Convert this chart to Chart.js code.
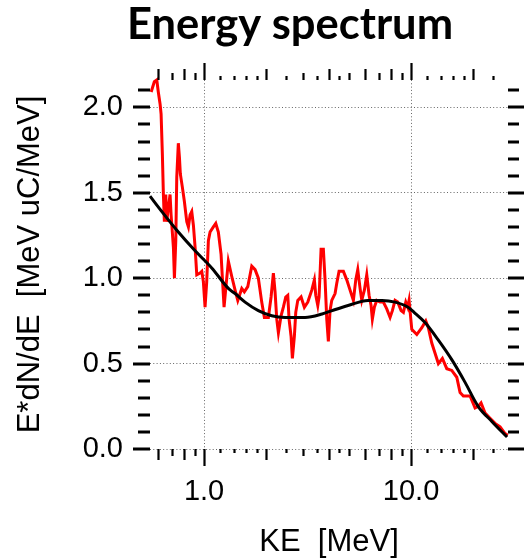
<!DOCTYPE html>
<html>
<head>
<meta charset="utf-8">
<script src="https://cdn.jsdelivr.net/npm/chart.js@4"></script>
<style>
  body { margin: 0; background: #fff; }
  #wrap { width: 525px; height: 558px; }
</style>
</head>
<body>
<div id="wrap"><canvas id="spectrum" width="525" height="558"></canvas></div>
<script>
// measured spectrum (red) and fit (black)
var redKE = [0.555, 0.575, 0.591, 0.601, 0.613, 0.620, 0.629, 0.636, 0.643, 0.653,
    0.660, 0.672, 0.685, 0.693, 0.711, 0.719, 0.730, 0.738, 0.751, 0.760,
    0.768, 0.786, 0.803, 0.825, 0.840, 0.856, 0.872, 0.888, 0.905, 0.922,
    0.956, 0.975, 0.992, 1.011, 1.030, 1.049, 1.069, 1.109, 1.139, 1.172,
    1.208, 1.226, 1.249, 1.310, 1.361, 1.412, 1.455, 1.521, 1.565, 1.626,
    1.700, 1.764, 1.829, 1.864, 1.899, 1.956, 2.045, 2.107, 2.162, 2.203,
    2.245, 2.286, 2.355, 2.416, 2.481, 2.537, 2.574, 2.632, 2.671, 2.731,
    2.773, 2.836, 2.942, 3.052, 3.170, 3.314, 3.411, 3.465, 3.543, 3.594,
    3.675, 3.770, 3.842, 3.915, 3.985, 4.061, 4.139, 4.294, 4.376, 4.489,
    4.710, 4.891, 5.074, 5.264, 5.406, 5.527, 5.671, 5.779, 5.949, 6.109,
    6.268, 6.410, 6.502, 6.648, 6.829, 7.083, 7.349, 7.632, 7.918, 8.124,
    8.37, 8.626, 8.95, 9.18, 9.43, 9.64, 9.78, 10.08, 10.66, 11.27,
    11.78, 12.12, 12.59, 13.06, 13.55, 14.17, 14.88, 15.73, 16.63, 17.25,
    17.89, 19.28, 20.38, 21.15, 21.79, 22.78, 24.08, 25.46, 26.92, 28.46,
    29.32];
var redFlux = [2.09, 2.15, 2.16, 2.09, 2.02, 1.96, 1.72, 1.49, 1.33, 1.49,
    1.33, 1.41, 1.49, 1.37, 1.18, 1.00, 1.22, 1.59, 1.79, 1.71,
    1.61, 1.53, 1.45, 1.33, 1.30, 1.37, 1.39, 1.31, 1.18, 1.02,
    1.03, 1.04, 0.98, 0.83, 0.98, 1.22, 1.27, 1.30, 1.32, 1.27,
    1.14, 1.00, 0.83, 1.10, 1.01, 0.93, 0.87, 0.94, 0.92, 0.95,
    1.07, 1.05, 1.00, 0.93, 0.86, 0.77, 0.77, 0.89, 1.03, 0.92,
    0.76, 0.68, 0.78, 0.83, 0.89, 0.90, 0.76, 0.66, 0.53, 0.66,
    0.80, 0.87, 0.89, 0.83, 0.86, 0.93, 0.99, 0.90, 0.84, 0.89,
    1.17, 1.17, 0.99, 0.76, 0.63, 0.81, 0.87, 0.91, 0.97, 1.04,
    1.04, 0.99, 0.93, 0.87, 0.99, 1.05, 0.94, 0.87, 0.93, 1.02,
    0.90, 0.84, 0.76, 0.83, 0.87, 0.86, 0.86, 0.82, 0.77, 0.81,
    0.87, 0.86, 0.81, 0.80, 0.86, 0.83, 0.87, 0.70, 0.67, 0.71,
    0.75, 0.71, 0.62, 0.56, 0.50, 0.53, 0.47, 0.46, 0.42, 0.33,
    0.31, 0.31, 0.24, 0.25, 0.27, 0.21, 0.18, 0.15, 0.13, 0.09,
    0.08];

var fitKE = [0.548, 0.625, 0.751, 0.905, 1.089, 1.310, 1.412, 1.578, 1.829, 2.122,
    2.462, 3.076, 3.716, 4.153, 4.963, 6.198, 7.244, 8.37, 9.67, 10.34,
    11.68, 13.50, 15.78, 18.24, 21.08, 24.62, 29.1];
var fitFlux = [1.48, 1.39, 1.27, 1.16, 1.06, 0.94, 0.91, 0.86, 0.81, 0.78,
    0.77, 0.77, 0.79, 0.81, 0.84, 0.87, 0.87, 0.86, 0.83, 0.80,
    0.74, 0.64, 0.52, 0.39, 0.25, 0.16, 0.07];

// axes
var xLabelTicks = [1, 10];
var xMediumTicks = [0.6, 0.8, 2, 4, 6, 8, 20];
var xShortTicks = [0.7, 0.9, 3, 5, 7, 9];
var xTinyTicks = [1.2, 1.4, 1.6, 1.8, 2.5, 3.5, 4.5, 12, 14, 16, 18, 25];
var yLabelTicks = [0, 0.5, 1.0, 1.5, 2.0];
var yMinorTicks = [0.1, 0.2, 0.3, 0.4, 0.6, 0.7, 0.8, 0.9, 1.1, 1.2, 1.3, 1.4,
    1.6, 1.7, 1.8, 1.9, 2.1];

var titleText = 'Energy spectrum';
var xTitle = 'KE  [MeV]';
var yTitle = 'E*dN/dE  [MeV uC/MeV]';

function toPoints(xs, ys) {
    return xs.map(function (x, i) { return { x: x, y: ys[i] }; });
}

// Title drawn by hand so it can sit left of the plot centre like the original.
var titlePlugin = {
    id: 'titlePlugin',
    afterDraw: function (chart) {
        var ctx = chart.ctx;
        ctx.save();
        ctx.fillStyle = '#000';
        ctx.font = 'bold 40px Lato';
        // squeeze to the width of the original heading
        var w = ctx.measureText(titleText).width;
        var size = 40 * 326 / w;
        ctx.font = 'bold ' + size.toFixed(1) + 'px Lato';
        ctx.textAlign = 'center';
        ctx.textBaseline = 'alphabetic';
        ctx.fillText(titleText, 290, 39);
        ctx.restore();
    }
};

// Outside tick marks on all four sides (IDL style).
var tickPlugin = {
    id: 'tickPlugin',
    afterDraw: function (chart) {
        var ctx = chart.ctx, a = chart.chartArea;
        var x = chart.scales.x, y = chart.scales.y;
        ctx.save();
        ctx.strokeStyle = '#000';
        ctx.lineCap = 'butt';

        ctx.lineWidth = 3;
        function yTick(v, lenL, lenR) {
            var py = Math.round(y.getPixelForValue(v));
            ctx.beginPath();
            ctx.moveTo(a.left - lenL, py); ctx.lineTo(a.left, py);
            ctx.moveTo(a.right, py); ctx.lineTo(a.right + lenR, py);
            ctx.stroke();
        }
        yLabelTicks.forEach(function (v) { yTick(v, 17, 16); });
        yMinorTicks.forEach(function (v) { yTick(v, 12, 11); });

        ctx.lineWidth = 2.2;
        function xTick(v, len) {
            var px = Math.round(x.getPixelForValue(v)) + 0.5;
            ctx.beginPath();
            ctx.moveTo(px, a.top - len); ctx.lineTo(px, a.top);
            ctx.moveTo(px, a.bottom); ctx.lineTo(px, a.bottom + len);
            ctx.stroke();
        }
        xLabelTicks.forEach(function (v) { xTick(v, 17); });
        xMediumTicks.forEach(function (v) { xTick(v, 11); });
        xShortTicks.forEach(function (v) { xTick(v, 7); });
        xTinyTicks.forEach(function (v) { xTick(v, 4); });
        ctx.restore();
    }
};

var ctx = document.getElementById('spectrum');
var chart = new Chart(ctx, {
    type: 'line',
    data: {
        datasets: [{
            label: 'fit',
            data: toPoints(fitKE, fitFlux),
            borderColor: '#000',
            borderWidth: 3,
            pointRadius: 0,
            tension: 0.4,
            cubicInterpolationMode: 'monotone',
            clip: false
        }, {
            label: 'measured',
            data: toPoints(redKE, redFlux),
            borderColor: '#ff0000',
            borderWidth: 3,
            pointRadius: 0,
            tension: 0,
            clip: false
        }]
    },
    options: {
        responsive: false,
        animation: false,
        devicePixelRatio: 1,
        layout: { padding: { left: 0, right: 17, top: 80, bottom: 0 } },
        plugins: {
            legend: { display: false },
            title: { display: false },
            tooltip: { enabled: false }
        },
        scales: {
            x: {
                type: 'logarithmic',
                min: 0.548,
                max: 29.4,
                afterBuildTicks: function (scale) {
                    scale.ticks = xLabelTicks.map(function (v) { return { value: v }; });
                },
                afterFit: function (scale) { scale.height = 109; },
                ticks: {
                    autoSkip: false,
                    maxRotation: 0,
                    padding: 26,
                    color: '#000',
                    font: { family: 'Liberation Sans', size: 29 },
                    callback: function (v) { return Number(v).toFixed(1); }
                },
                grid: { color: '#666', lineWidth: 1, drawTicks: false },
                border: { display: false, dash: [1, 2.3] },
                title: {
                    display: true,
                    text: xTitle,
                    color: '#000',
                    font: { family: 'Liberation Sans', size: 31 },
                    padding: { top: 0, bottom: -3 }
                }
            },
            y: {
                min: 0,
                max: 2.16,
                afterBuildTicks: function (scale) {
                    scale.ticks = yLabelTicks.map(function (v) { return { value: v }; });
                },
                afterFit: function (scale) { scale.width = 150; },
                ticks: {
                    padding: 27,
                    color: '#000',
                    font: { family: 'Liberation Sans', size: 29 },
                    callback: function (v) { return Number(v).toFixed(1); }
                },
                grid: { color: '#666', lineWidth: 1, drawTicks: false },
                border: { display: false, dash: [1, 2.3] },
                title: {
                    display: true,
                    text: yTitle,
                    color: '#000',
                    font: { family: 'Liberation Sans', size: 31 },
                    padding: { top: 12, bottom: 0 }
                }
            }
        }
    },
    plugins: [titlePlugin, tickPlugin]
});
</script>
</body>
</html>
